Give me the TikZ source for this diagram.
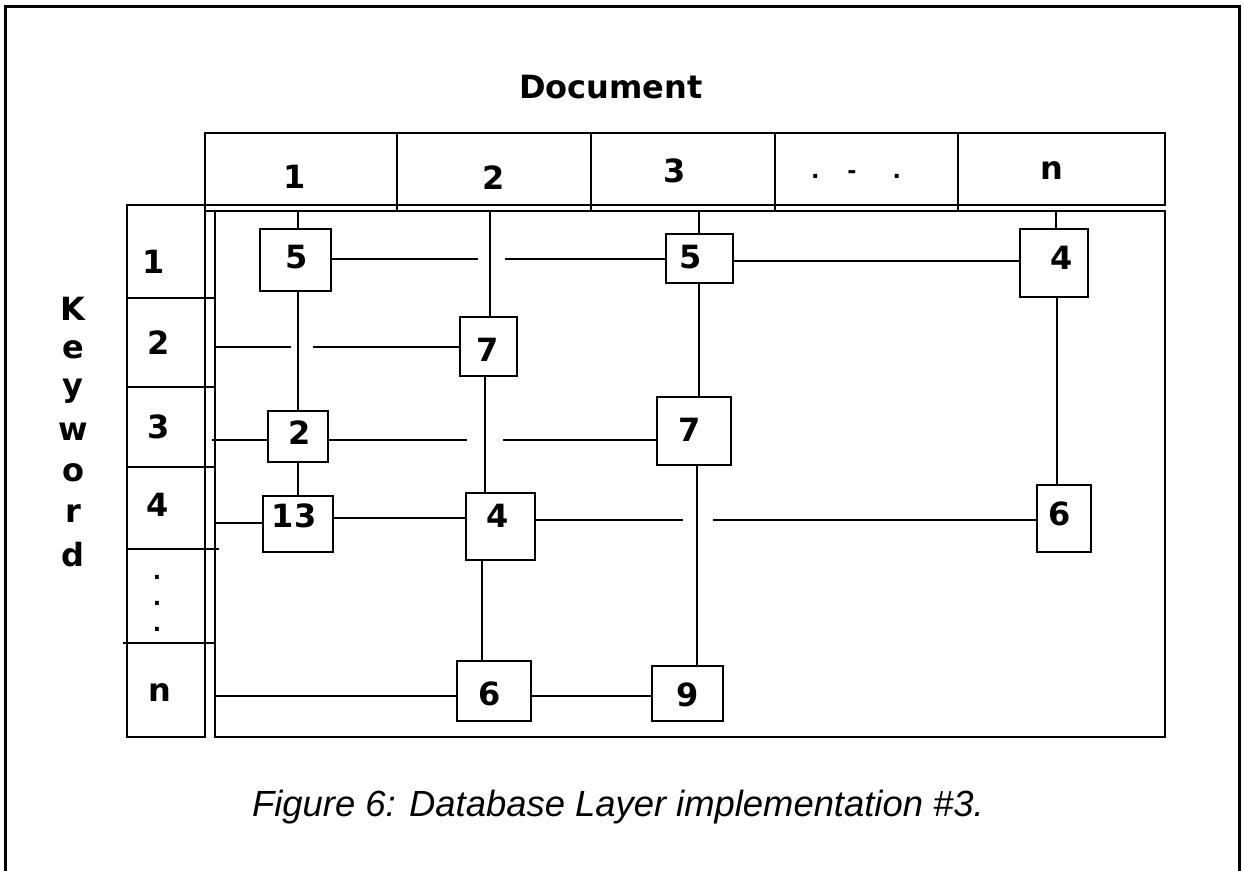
\documentclass[tikz,border=0pt]{standalone}
\usepackage{fontspec}
\newfontfamily\labfont{DejaVu Sans}
\newfontfamily\capfont{Liberation Sans}
\begin{document}
\begin{tikzpicture}[x=0.5pt,y=-0.5pt,line width=1pt]
\tikzset{
  lab/.style={font={\labfont\bfseries\fontsize{16}{19}\selectfont},inner sep=0pt},
  dotlab/.style={font={\labfont\bfseries\fontsize{11}{12}\selectfont},inner sep=0pt},
  cellbox/.style={draw,rectangle,inner sep=0pt},
  captext/.style={font={\capfont\itshape\fontsize{18.2}{22}\selectfont},inner sep=0pt},
  wire/.style={line width=1pt},
}
\useasboundingbox (0,0) rectangle (1244,871);

% page frame (open at the bottom)
\draw[line width=1.5pt] (5,871) -- (5,7) -- (1239,7) -- (1239,871);

% title
\node[lab] (title) at (611,87) {Document};

% document header row
\draw (205,133) rectangle (1165,205);
\foreach \x in {397,591,775,958} \draw (\x,133) -- (\x,211);
\draw (205,211) -- (1165,211);
\node[lab] (d1) at (295,177) {1};
\node[lab] (d2) at (494,178) {2};
\node[lab] (d3) at (675,171) {3};
\node[dotlab] (ddots) at (856,175) {.\hspace{14pt}-\hspace{18pt}.};
\node[lab] (dn) at (1052,171) {n};

% keyword column
\draw (127,205) rectangle (205,737);
\draw (215,211) rectangle (1165,737);
\draw (127,298) -- (215,298);
\draw (127,387) -- (215,387);
\draw (127,467) -- (215,467);
\draw (127,549) -- (219,549);
\draw (123,643) -- (215,643);
\node[lab] (k1) at (154,262) {1};
\node[lab] (k2) at (159,343) {2};
\node[lab] (k3) at (159,427) {3};
\node[lab] (k4) at (158,505) {4};
\node[dotlab] (kd1) at (157,577) {.};
\node[dotlab] (kd2) at (157,603) {.};
\node[dotlab] (kd3) at (157,629) {.};
\node[lab] (kn) at (160,693) {n};

% vertical axis label
\foreach \ch [count=\i from 0] in {K,e,y,w,o,r,d}
  \node[lab] (kw\i) at (73,{309+41*\i}) {\ch};

% entry boxes
\node[cellbox,minimum width=35.5pt,minimum height=31pt,
  label={[lab,shift={(1,-3)}]center:5}] (a5) at (295.5,260) {};
\node[cellbox,minimum width=28.5pt,minimum height=29.5pt,
  label={[lab,shift={(-1,3)}]center:7}] (a7) at (488.5,346.5) {};
\node[cellbox,minimum width=30pt,minimum height=25.5pt,
  label={[lab,shift={(2,-4)}]center:2}] (a2) at (298,436.5) {};
\node[cellbox,minimum width=35pt,minimum height=28pt,
  label={[lab,shift={(-4,-8)}]center:13}] (a13) at (298,524) {};
\node[cellbox,minimum width=34.5pt,minimum height=33.5pt,
  label={[lab,shift={(-3,-11)}]center:4}] (b4) at (500.5,526.5) {};
\node[cellbox,minimum width=37pt,minimum height=30pt,
  label={[lab,shift={(-4,3)}]center:6}] (b6) at (494,691) {};
\node[cellbox,minimum width=33.5pt,minimum height=24.5pt,
  label={[lab,shift={(-9,-1)}]center:5}] (c5) at (699.5,258.5) {};
\node[cellbox,minimum width=37pt,minimum height=34pt,
  label={[lab,shift={(-4,-1)}]center:7}] (c7) at (694,431) {};
\node[cellbox,minimum width=35.5pt,minimum height=27.5pt,
  label={[lab,shift={(0,1)}]center:9}] (c9) at (687.5,693.5) {};
\node[cellbox,minimum width=34pt,minimum height=34pt,
  label={[lab,shift={(8,-5)}]center:4}] (n4) at (1054,263) {};
\node[cellbox,minimum width=27pt,minimum height=33.5pt,
  label={[lab,shift={(-4,-5)}]center:6}] (n6) at (1064,518.5) {};

% column entry points on the top of the grid
\coordinate (t1) at (298,211);
\coordinate (t2) at (490,211);
\coordinate (t3) at (699,211);
\coordinate (tn) at (1056,211);

% column chains
\draw[wire] (t1) -- (t1 |- a5.north);
\draw[wire] (298,0 |- a5.south) -- (298,0 |- a2.north);
\draw[wire] (298,0 |- a2.south) -- (298,0 |- a13.north);
\draw[wire] (t2) -- (t2 |- a7.north);
\draw[wire] (485,0 |- a7.south) -- (485,0 |- b4.north);
\draw[wire] (482,0 |- b4.south) -- (482,0 |- b6.north);
\draw[wire] (t3) -- (t3 |- c5.north);
\draw[wire] (699,0 |- c5.south) -- (699,0 |- c7.north);
\draw[wire] (697,0 |- c7.south) -- (697,0 |- c9.north);
\draw[wire] (tn) -- (tn |- n4.north);
\draw[wire] (1057,0 |- n4.south) -- (1057,0 |- n6.north);

% row entry points and crossing gaps
\coordinate (r2) at (215,347);
\coordinate (r3) at (212,440);
\coordinate (r4) at (215,523);
\coordinate (rn) at (215,696);
\coordinate (g1l) at (478,259);
\coordinate (g1r) at (505,259);
\coordinate (g2l) at (291,347);
\coordinate (g2r) at (313,347);
\coordinate (g3l) at (467,440);
\coordinate (g3r) at (503,440);
\coordinate (g4l) at (683,520);
\coordinate (g4r) at (713,520);

% row chains
\draw[wire] (a5.east |- g1l) -- (g1l);
\draw[wire] (g1r) -- (c5.west |- g1r);
\draw[wire] (c5.east |- 0,261) -- (n4.west |- 0,261);
\draw[wire] (r2) -- (g2l);
\draw[wire] (g2r) -- (a7.west |- g2r);
\draw[wire] (r3) -- (a2.west |- r3);
\draw[wire] (a2.east |- g3l) -- (g3l);
\draw[wire] (g3r) -- (c7.west |- g3r);
\draw[wire] (r4) -- (a13.west |- r4);
\draw[wire] (a13.east |- 0,518) -- (b4.west |- 0,518);
\draw[wire] (b4.east |- g4l) -- (g4l);
\draw[wire] (g4r) -- (n6.west |- g4r);
\draw[wire] (rn) -- (b6.west |- rn);
\draw[wire] (b6.east |- rn) -- (c9.west |- rn);

% caption
\node[captext] (caption) at (618,807) {Figure 6: Database Layer implementation \#3.};
\end{tikzpicture}
\end{document}
